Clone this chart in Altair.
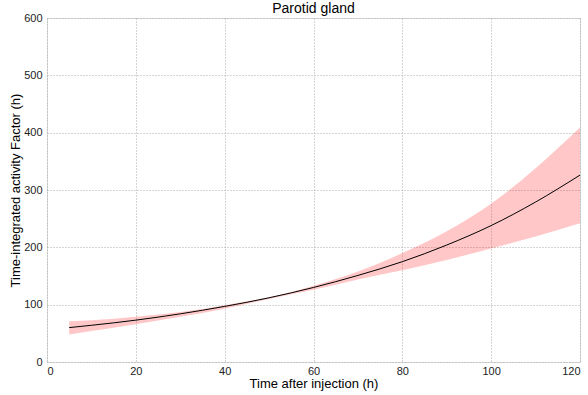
import altair as alt
import pandas as pd

time_h = [5, 10, 20, 30, 40, 50, 60, 70, 80, 90, 100, 110, 120]
tiaf_mean = [60, 64, 73, 84, 97, 112, 130, 151, 175, 204, 238, 279, 326]
tiaf_upper = [71, 73, 79, 87, 99, 113, 133, 158, 190, 228, 276, 338, 409]
tiaf_lower = [48, 54, 66, 79, 93, 110, 126, 144, 160, 178, 198, 219, 242]

x_ticks = [0, 20, 40, 60, 80, 100, 120]
y_ticks = [0, 100, 200, 300, 400, 500, 600]

df = pd.DataFrame({"t": time_h, "m": tiaf_mean, "hi": tiaf_upper, "lo": tiaf_lower})

FONT = "Liberation Sans"

xs = alt.Scale(domain=[0, 120], nice=False)
ys = alt.Scale(domain=[0, 600], nice=False)

xaxis = alt.Axis(values=x_ticks, title="Time after injection (h)", grid=True,
                 gridDash=[1, 2], gridColor="#aaaaaa", gridWidth=1,
                 ticks=False, domain=False, labelFontSize=11, labelColor="#222",
                 labelPadding=3, titleFontSize=13, titleFontWeight="normal",
                 titleColor="#000", titlePadding=1, labelFont=FONT, titleFont=FONT)
yaxis = alt.Axis(values=y_ticks, title="Time-integrated activity Factor (h)", grid=True,
                 gridDash=[1, 2], gridColor="#aaaaaa", gridWidth=1,
                 ticks=False, domain=False, labelFontSize=11, labelColor="#222",
                 labelPadding=5, titleFontSize=13, titleFontWeight="normal",
                 titleColor="#000", titlePadding=1, labelFont=FONT, titleFont=FONT)

band = alt.Chart(df).mark_area(color="#ff0000", opacity=0.22, interpolate="monotone").encode(
    x=alt.X("t:Q", scale=xs, axis=xaxis),
    y=alt.Y("lo:Q", scale=ys, axis=yaxis),
    y2="hi:Q",
)
line = alt.Chart(df).mark_line(color="#000000", strokeWidth=1, interpolate="monotone").encode(
    x=alt.X("t:Q", scale=xs),
    y=alt.Y("m:Q", scale=ys),
)

chart = alt.layer(band, line).properties(
    width=533, height=344,
    title=alt.TitleParams("Parotid gland", fontSize=14, fontWeight="normal", font=FONT,
                          color="#000", offset=-4, anchor="middle"),
    autosize=alt.AutoSizeParams(type="none"),
    padding={"left": 47, "top": 18, "right": 8, "bottom": 33},
).configure_view(stroke="#000000", strokeWidth=1).configure(background="white")

chart.save("out.html", embed_options={"renderer": "svg", "actions": False})
